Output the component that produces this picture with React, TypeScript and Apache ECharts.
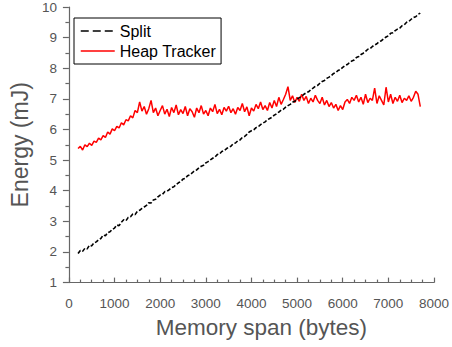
import React, { useEffect, useRef } from "react";
import * as echarts from "echarts";

const xStart = 200;
const xStep = 50;

const splitValues = [
  1.95, 2.05, 2.02, 2.12, 2.10, 2.22, 2.20, 2.30, 2.33, 2.40,
  2.44, 2.55, 2.53, 2.63, 2.66, 2.74, 2.78, 2.88, 2.86, 2.97,
  3.05, 3.02, 3.13, 3.15, 3.24, 3.22, 3.33, 3.36, 3.42, 3.47,
  3.52, 3.61, 3.60, 3.70, 3.72, 3.80, 3.86, 3.88, 3.97, 3.98,
  4.04, 4.10, 4.13, 4.20, 4.26, 4.30, 4.38, 4.40, 4.49, 4.52,
  4.58, 4.65, 4.68, 4.75, 4.80, 4.83, 4.91, 4.95, 5.01, 5.06,
  5.10, 5.18, 5.20, 5.28, 5.31, 5.37, 5.42, 5.45, 5.54, 5.56,
  5.63, 5.66, 5.74, 5.77, 5.84, 5.92, 5.96, 5.99, 6.06, 6.09,
  6.16, 6.21, 6.25, 6.32, 6.36, 6.40, 6.47, 6.51, 6.57, 6.63,
  6.66, 6.73, 6.78, 6.82, 6.89, 6.92, 6.99, 7.04, 7.08, 7.15,
  7.20, 7.23, 7.30, 7.35, 7.41, 7.44, 7.51, 7.57, 7.60, 7.67,
  7.71, 7.76, 7.83, 7.86, 7.93, 7.96, 8.03, 8.09, 8.12, 8.19,
  8.24, 8.27, 8.35, 8.38, 8.45, 8.49, 8.55, 8.62, 8.64, 8.71,
  8.76, 8.80, 8.87, 8.90, 8.97, 9.02, 9.06, 9.14, 9.16, 9.23,
  9.28, 9.31, 9.39, 9.42, 9.50, 9.53, 9.60, 9.66, 9.68, 9.76,
  9.80,
];

const heapValues = [
  5.38, 5.45, 5.33, 5.50, 5.44, 5.55, 5.48, 5.62, 5.58, 5.72,
  5.66, 5.80, 5.74, 5.92, 5.85, 6.02, 5.96, 6.10, 6.05, 6.22,
  6.15, 6.32, 6.28, 6.45, 6.38, 6.62, 6.55, 6.90, 6.60, 6.75,
  6.50, 6.68, 6.95, 6.55, 6.70, 6.45, 6.62, 6.78, 6.50, 6.66,
  6.42, 6.72, 6.55, 6.80, 6.48, 6.65, 6.52, 6.75, 6.45, 6.68,
  6.58, 6.40, 6.70, 6.55, 6.78, 6.50, 6.62, 6.45, 6.70, 6.58,
  6.82, 6.52, 6.66, 6.48, 6.72, 6.60, 6.76, 6.55, 6.68, 6.50,
  6.72, 6.62, 6.85, 6.58, 6.74, 6.45, 6.70, 6.60, 6.82, 6.68,
  6.90, 6.65, 6.78, 6.62, 6.88, 6.70, 6.95, 6.75, 7.05, 6.82,
  6.98, 7.15, 7.40, 6.95, 7.10, 6.88, 7.05, 6.92, 7.15, 6.95,
  7.08, 6.85, 7.02, 6.90, 7.12, 6.95, 6.85, 7.05, 6.80, 6.95,
  6.75, 6.88, 6.70, 6.82, 6.62, 6.78, 6.65, 6.90, 6.98, 6.85,
  7.05, 6.95, 7.12, 6.90, 7.05, 6.82, 7.15, 6.88, 7.02, 6.95,
  7.35, 6.85, 7.10, 6.95, 6.80, 7.38, 6.90, 7.15, 6.85, 7.05,
  6.92, 7.12, 6.88, 7.02, 6.95, 7.10, 6.92, 7.05, 7.25, 7.15,
  6.75,
];

const seriesNames = ["Split", "Heap Tracker"];
const xTitle = "Memory span (bytes)";
const yTitle = "Energy (mJ)";

const toPairs = (vals: number[]) => vals.map((v, i) => [xStart + i * xStep, v]);

const FONT = "Liberation Sans, Arial, sans-serif";
const AXIS = "#666666";
const LABEL = "#555555";
const HIDDEN = { color: "rgba(0,0,0,0)", borderWidth: 0, opacity: 0 };

export default function App() {
  const ref = useRef<HTMLDivElement>(null);
  useEffect(() => {
    if (!ref.current) return;
    const chart = echarts.init(ref.current, undefined, { renderer: "svg" });
    chart.setOption({
      animation: false,
      backgroundColor: "#ffffff",
      textStyle: { fontFamily: FONT },
      grid: { left: 62.5, right: 14.7, top: 6, bottom: 64.4, containLabel: false },
      legend: {
        orient: "vertical",
        left: 74,
        top: 18,
        borderColor: "#000000",
        borderWidth: 1,
        borderRadius: 0,
        padding: [5, 5, 5, 6],
        itemGap: 4,
        itemWidth: 34,
        itemHeight: 16,
        textStyle: { fontFamily: FONT, fontSize: 16, color: "#000000" },
        data: [
          { name: seriesNames[0], itemStyle: HIDDEN, lineStyle: { type: [8, 4], width: 1.5, color: "#000" } },
          { name: seriesNames[1], itemStyle: HIDDEN, lineStyle: { width: 1.5, color: "#ff0000" } },
        ],
      },
      xAxis: {
        type: "value",
        min: 0,
        max: 8000,
        interval: 1000,
        name: xTitle,
        nameLocation: "middle",
        nameGap: 32,
        nameTextStyle: { fontFamily: FONT, fontSize: 22.5, color: LABEL, padding: [0, 0, 0, 20] },
        axisLine: { show: true, lineStyle: { color: AXIS, width: 1.2 } },
        axisTick: { show: true, inside: true, length: 5, lineStyle: { color: AXIS, width: 1.2 } },
        minorTick: { show: true, splitNumber: 4, length: 3, lineStyle: { color: AXIS, width: 1.2 } },
        axisLabel: {
          fontFamily: FONT,
          fontSize: 13.5,
          color: LABEL,
          margin: 14,
          formatter: (v: number) => String(v),
        },
        splitLine: { show: false },
      },
      yAxis: {
        type: "value",
        min: 1,
        max: 10,
        interval: 1,
        name: yTitle,
        nameLocation: "middle",
        nameGap: 33,
        nameTextStyle: { fontFamily: FONT, fontSize: 23, color: LABEL },
        axisLine: { show: true, lineStyle: { color: AXIS, width: 1.2 } },
        axisTick: { show: true, inside: false, length: 6, lineStyle: { color: AXIS, width: 1.2 } },
        minorTick: { show: true, splitNumber: 2, length: 3.5, lineStyle: { color: AXIS, width: 1.2 } },
        axisLabel: {
          fontFamily: FONT,
          fontSize: 13.5,
          color: LABEL,
          margin: 12,
          formatter: (v: number) => String(v),
        },
        splitLine: { show: false },
      },
      series: [
        {
          name: seriesNames[0],
          type: "line",
          data: toPairs(splitValues),
          symbol: "none",
          showSymbol: false,
          lineStyle: { color: "#000000", width: 1.6, type: [4, 2] },
          itemStyle: { color: "#000000" },
          z: 3,
        },
        {
          name: seriesNames[1],
          type: "line",
          data: toPairs(heapValues),
          symbol: "none",
          showSymbol: false,
          lineStyle: { color: "#ff0000", width: 1.5 },
          itemStyle: { color: "#ff0000" },
          z: 2,
        },
      ],
    });
    return () => chart.dispose();
  }, []);
  return (
    <div
      ref={ref}
      style={{ position: "fixed", left: 0, top: 0, width: 452, height: 347, background: "#fff" }}
    />
  );
}
